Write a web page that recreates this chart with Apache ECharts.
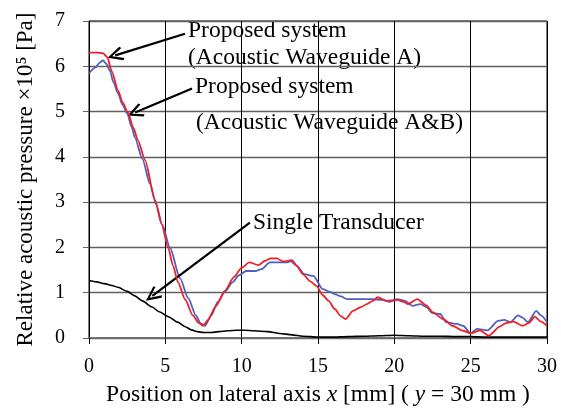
<!DOCTYPE html>
<html>
<head>
<meta charset="utf-8">
<script src="https://cdn.jsdelivr.net/npm/echarts@6/dist/echarts.min.js"></script>
<style>html,body{margin:0;padding:0;background:#fff}#c{width:561px;height:412px}</style>
</head>
<body>
<div id="c"></div>
<script>
// Proposed system (Acoustic Waveguide A) - red
const waveguideA = [
  [0,6.30],[0.5,6.30],[0.9,6.29],[1.2,6.20],[1.5,5.88],[1.9,5.47],[2.2,5.20],[2.55,4.98],[2.9,4.65],[3.2,4.37],
  [3.67,3.93],[4.32,3.05],[4.75,2.52],[5.17,2.02],[5.5,1.60],[5.83,1.23],[6.3,0.85],[6.8,0.50],[7.2,0.33],[7.47,0.27],
  [7.8,0.40],[8.3,0.70],[8.9,1.04],[9.5,1.35],[10.0,1.55],[10.5,1.67],[11.1,1.61],[11.5,1.70],[11.9,1.76],[12.3,1.76],
  [12.7,1.69],[13.3,1.72],[13.6,1.60],[14.0,1.41],[14.5,1.25],[14.9,1.15],[15.3,0.95],[15.7,0.82],[16.1,0.64],[16.5,0.48],
  [16.8,0.42],[17.3,0.60],[17.8,0.68],[18.2,0.75],[18.6,0.82],[18.9,0.90],[19.5,0.82],[20.2,0.84],[20.6,0.80],[20.9,0.75],
  [21.5,0.86],[22.1,0.72],[22.5,0.57],[23.2,0.42],[23.8,0.27],[24.5,0.16],[25.0,0.10],[25.6,0.17],[26.2,0.05],[26.9,0.25],
  [27.3,0.33],[27.8,0.36],[28.4,0.27],[28.8,0.33],[29.2,0.47],[29.6,0.36],[30.0,0.27]
];
// Proposed system (Acoustic Waveguide A&B) - blue
const waveguideAB = [
  [0,5.84],[0.4,5.97],[0.7,6.08],[0.92,6.13],[1.15,6.05],[1.37,5.90],[1.6,5.65],[1.9,5.40],[2.2,5.15],[2.5,4.96],
  [2.8,4.65],[3.0,4.43],[3.5,3.95],[4.0,3.40],[4.4,2.95],[4.8,2.50],[5.3,2.00],[5.96,1.32],[6.5,0.88],[7.0,0.50],
  [7.3,0.33],[7.6,0.27],[8.0,0.50],[8.45,0.80],[8.9,1.02],[9.4,1.23],[9.8,1.38],[10.3,1.48],[10.9,1.48],[11.3,1.52],
  [11.85,1.67],[12.4,1.67],[13.0,1.67],[13.2,1.70],[13.6,1.60],[14.1,1.41],[14.7,1.37],[15.3,1.08],[15.8,1.02],[16.1,0.97],
  [16.5,0.92],[16.9,0.86],[17.5,0.86],[18.5,0.86],[19.2,0.84],[19.7,0.80],[20.2,0.86],[20.7,0.82],[21.2,0.71],[21.7,0.75],
  [22.1,0.68],[22.5,0.55],[23.0,0.53],[23.4,0.35],[24.1,0.31],[24.5,0.27],[25.0,0.10],[25.4,0.20],[26.1,0.17],[26.8,0.38],
  [27.2,0.40],[27.6,0.35],[28.1,0.50],[28.4,0.45],[28.75,0.35],[29.3,0.60],[29.6,0.50],[30.0,0.35]
];
// Single Transducer - black
const singleTransducer = [
  [0,1.27],[0.5,1.24],[1.0,1.20],[1.5,1.16],[1.9,1.12],[2.5,1.03],[3.0,0.93],[3.5,0.82],[4.1,0.69],[4.6,0.58],
  [5.2,0.47],[5.8,0.35],[6.3,0.25],[6.7,0.18],[7.1,0.14],[7.5,0.12],[8.0,0.12],[8.5,0.14],[9.1,0.16],[9.7,0.17],
  [10.2,0.17],[10.8,0.16],[11.7,0.14],[12.5,0.10],[13.3,0.07],[14.0,0.04],[15.0,0.02],[16.0,0.02],[17.0,0.03],[18.0,0.04],
  [19.0,0.05],[20.0,0.06],[21.0,0.05],[22.0,0.04],[23.0,0.04],[24.0,0.03],[25.0,0.03],[26.0,0.02],[27.0,0.02],[28.0,0.02],
  [29.0,0.02],[30.0,0.02]
];
// Arrow annotations (data coordinates): tail -> head
const arrowTails = [[6.29,6.72],[6.75,5.51],[10.54,2.55]];
const arrowHeads = [[1.72,6.24],[3.02,4.98],[4.15,0.93]];
const xTicks = [0,5,10,15,20,25,30];
const yTicks = [0,1,2,3,4,5,6,7];

const serif = '"Liberation Serif","Times New Roman",serif';
const chart = echarts.init(document.getElementById('c'), null, {renderer:'canvas'});
const chevron = 'path://M50,0 L100,90 L88,100 L50,30 L12,100 L0,90 Z';
const sm = 0.25;
chart.setOption({
  animation:false,
  backgroundColor:'#fff',
  grid:{left:89,right:14,top:21,bottom:73,show:true,borderColor:'#000',borderWidth:1,containLabel:false},
  xAxis:{
    type:'value',min:xTicks[0],max:xTicks[xTicks.length-1],interval:5,
    axisLine:{show:true,onZero:false,lineStyle:{color:'#707070',width:1.5}},
    axisTick:{show:true,inside:false,length:6,lineStyle:{color:'#000'}},
    axisLabel:{margin:19,color:'#000',fontFamily:serif,fontSize:20},
    splitLine:{show:true,lineStyle:{color:'#000',width:1}},
    name:'{a|Position on lateral axis }{i|x}{a| [mm] ( }{i|y}{a| = 30 mm )}',
    nameLocation:'middle',nameGap:45,
    nameTextStyle:{rich:{a:{fontFamily:serif,fontSize:23.5,color:'#000'},i:{fontFamily:serif,fontSize:23.5,fontStyle:'italic',color:'#000'}}}
  },
  yAxis:{
    type:'value',min:yTicks[0],max:yTicks[yTicks.length-1],interval:1,
    axisLine:{show:true,lineStyle:{color:'#000',width:1}},
    axisTick:{show:true,inside:false,length:6,lineStyle:{color:'#606060'}},
    axisLabel:{margin:24,color:'#000',fontFamily:serif,fontSize:20},
    splitLine:{show:true,lineStyle:{color:'#606060',width:1.3}},
    name:'Relative acoustic pressure \u00d710\u2075 [Pa]',
    nameLocation:'middle',nameGap:52,
    nameTextStyle:{fontFamily:serif,fontSize:23,color:'#000'}
  },
  series:[
    {type:'line',name:'Single Transducer',data:singleTransducer,showSymbol:false,smooth:sm,smoothMonotone:'x',
     lineStyle:{color:'#000',width:1.6},z:3,
     markLine:{silent:true,symbol:['none',chevron],symbolSize:[14,16],
       lineStyle:{color:'#000',width:2.2,type:'solid'},label:{show:false},
       data:arrowTails.map((t,i)=>[{coord:t},{coord:arrowHeads[i]}])}},
    {type:'line',name:'Waveguide A&B',data:waveguideAB,showSymbol:false,smooth:sm,smoothMonotone:'x',
     lineStyle:{color:'#4f5fba',width:1.8},z:4},
    {type:'line',name:'Waveguide A',data:waveguideA,showSymbol:false,smooth:sm,smoothMonotone:'x',
     lineStyle:{color:'#ee2028',width:1.8},z:5}
  ],
  graphic:[
    {type:'text',left:188,top:19,style:{text:'Proposed system',font:'23.5px '+serif,fill:'#000'}},
    {type:'text',left:188,top:46,style:{text:'(Acoustic Waveguide A)',font:'23.5px '+serif,fill:'#000'}},
    {type:'text',left:195,top:75,style:{text:'Proposed system',font:'23.5px '+serif,fill:'#000'}},
    {type:'text',left:196,top:111,style:{text:'(Acoustic Waveguide A&B)',font:'23.5px '+serif,fill:'#000'}},
    {type:'text',left:253,top:211,style:{text:'Single Transducer',font:'23.5px '+serif,fill:'#000'}}
  ]
});
</script>
</body>
</html>
